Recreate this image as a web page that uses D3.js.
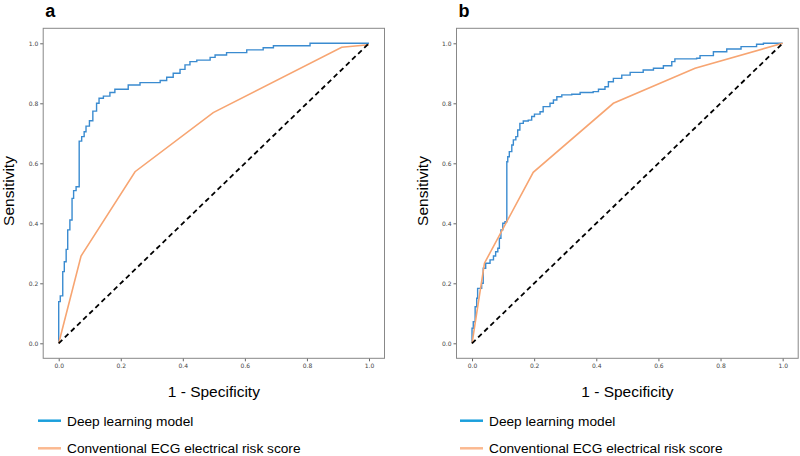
<!DOCTYPE html>
<html>
<head>
<meta charset="utf-8">
<script src="https://cdn.jsdelivr.net/npm/d3@7"></script>
<style>
  body { margin: 0; background: #fff; }
  svg { display: block; }
</style>
</head>
<body>
<div id="chart"></div>
<script>
// ROC points, panel a (fpr, tpr)
var dl_a_fpr = [0, 0, 0.005, 0.013, 0.018, 0.024, 0.029, 0.036, 0.043, 0.048, 0.056, 0.066, 0.074, 0.082, 0.088, 0.099, 0.110, 0.122, 0.130, 0.144, 0.165, 0.181, 0.224, 0.262, 0.327, 0.348, 0.369, 0.391, 0.407, 0.423, 0.445, 0.488, 0.504, 0.541, 0.606, 0.659, 0.692, 0.810, 1.0];
var dl_a_tpr = [0, 0.139, 0.158, 0.239, 0.272, 0.313, 0.378, 0.411, 0.483, 0.509, 0.522, 0.674, 0.689, 0.705, 0.724, 0.742, 0.774, 0.800, 0.817, 0.824, 0.836, 0.847, 0.861, 0.869, 0.876, 0.887, 0.900, 0.913, 0.928, 0.939, 0.944, 0.953, 0.961, 0.969, 0.978, 0.985, 0.992, 1.0, 1.0];
var ecg_a_fpr = [0, 0.072, 0.246, 0.498, 0.912, 1.0];
var ecg_a_tpr = [0, 0.291, 0.572, 0.769, 0.987, 0.995];

// ROC points, panel b
var dl_b_fpr = [0, 0, 0.004, 0.010, 0.015, 0.018, 0.031, 0.036, 0.044, 0.058, 0.069, 0.076, 0.083, 0.088, 0.093, 0.099, 0.106, 0.112, 0.115, 0.120, 0.128, 0.133, 0.141, 0.147, 0.154, 0.165, 0.181, 0.192, 0.201, 0.219, 0.229, 0.251, 0.262, 0.273, 0.289, 0.321, 0.348, 0.390, 0.407, 0.428, 0.439, 0.455, 0.482, 0.509, 0.551, 0.584, 0.616, 0.643, 0.653, 0.723, 0.734, 0.777, 0.820, 0.866, 0.916, 0.938, 1.0];
var dl_b_tpr = [0, 0.05, 0.072, 0.122, 0.150, 0.183, 0.200, 0.250, 0.267, 0.278, 0.291, 0.305, 0.317, 0.350, 0.378, 0.400, 0.405, 0.605, 0.622, 0.639, 0.661, 0.678, 0.689, 0.711, 0.733, 0.741, 0.744, 0.756, 0.764, 0.772, 0.789, 0.800, 0.811, 0.822, 0.828, 0.830, 0.836, 0.839, 0.847, 0.855, 0.872, 0.883, 0.894, 0.903, 0.911, 0.917, 0.925, 0.939, 0.948, 0.950, 0.959, 0.972, 0.981, 0.989, 0.997, 1.0, 1.0];
var ecg_b_fpr = [0, 0.040, 0.197, 0.455, 0.718, 1.0];
var ecg_b_tpr = [0, 0.267, 0.570, 0.800, 0.917, 1.0];

var ticks = [0, 0.2, 0.4, 0.6, 0.8, 1.0];
var legend_labels = ["Deep learning model", "Conventional ECG electrical risk score"];

var blue = "#3a8bd0", orange = "#f7a572";
var blue_leg = "#1a9fdc", orange_leg = "#fbb990";

var svg = d3.select("#chart").append("svg")
  .attr("width", 800)
  .attr("height", 456);

function zip(xs, ys){
  return xs.map(function(x, i){ return [x, ys[i]]; });
}

function draw_panel(opts){
  var x = d3.scaleLinear().domain([-0.05, 1.05]).range([opts.left, opts.right]);
  var y = d3.scaleLinear().domain([-0.05, 1.05]).range([358.3, 28.3]);

  var g = svg.append("g");

  // axes
  var xa = g.append("g")
    .attr("transform", "translate(0,358.3)")
    .call(d3.axisBottom(x).tickValues(ticks).tickFormat(d3.format(".1f")).tickSize(3).tickPadding(2));
  var ya = g.append("g")
    .attr("transform", "translate(" + opts.left + ",0)")
    .call(d3.axisLeft(y).tickValues(ticks).tickFormat(d3.format(".1f")).tickSize(3).tickPadding(2));
  [xa, ya].forEach(function(a){
    a.select(".domain").remove();
    a.selectAll("line").attr("stroke", "#666");
    a.selectAll("text")
      .style("font-family", "DejaVu Sans")
      .style("font-size", "6px")
      .attr("fill", "#444");
  });

  var line = d3.line()
    .x(function(d){ return x(d[0]); })
    .y(function(d){ return y(d[1]); });

  g.append("path")
    .datum(zip(opts.dl_fpr, opts.dl_tpr))
    .attr("fill", "none")
    .attr("stroke", blue)
    .attr("stroke-width", 1.4)
    .attr("d", line.curve(d3.curveStepAfter));

  g.append("path")
    .datum(zip(opts.ecg_fpr, opts.ecg_tpr))
    .attr("fill", "none")
    .attr("stroke", orange)
    .attr("stroke-width", 1.6)
    .attr("d", d3.line().x(function(d){ return x(d[0]); }).y(function(d){ return y(d[1]); }));

  g.append("line")
    .attr("x1", x(0)).attr("y1", y(0))
    .attr("x2", x(1)).attr("y2", y(1))
    .attr("stroke", "#000")
    .attr("stroke-width", 1.8)
    .style("stroke-dasharray", "5, 3.5");

  // frame
  g.append("rect")
    .attr("x", opts.left).attr("y", 28.3)
    .attr("width", opts.right - opts.left)
    .attr("height", 330)
    .attr("fill", "none")
    .attr("stroke", "#888")
    .attr("stroke-width", 1);

  // panel letter
  g.append("text")
    .attr("x", opts.left + 2)
    .attr("y", 16.5)
    .style("font-family", "Liberation Sans")
    .style("font-weight", "bold")
    .style("font-size", "18px")
    .text(opts.letter);

  g.append("text")
    .attr("transform", "translate(" + opts.ylab_x + ",191) rotate(-90)")
    .attr("text-anchor", "middle")
    .style("font-family", "Liberation Sans")
    .style("font-size", "15.5px")
    .text("Sensitivity");

  g.append("text")
    .attr("x", (x(0) + x(1)) / 2)
    .attr("y", 397)
    .attr("text-anchor", "middle")
    .style("font-family", "Liberation Sans")
    .style("font-size", "15.5px")
    .text("1 - Specificity");

  // legend
  var leg_y = [420.7, 448.3];
  var leg_c = [blue_leg, orange_leg];
  legend_labels.forEach(function(lab, i){
    g.append("line")
      .attr("x1", opts.leg_x).attr("x2", opts.leg_x + 23)
      .attr("y1", leg_y[i]).attr("y2", leg_y[i])
      .attr("stroke", leg_c[i])
      .attr("stroke-width", 2.5);
    g.append("text")
      .attr("x", opts.leg_x + 29)
      .attr("y", leg_y[i] + 5)
      .style("font-family", "Liberation Sans")
      .style("font-size", "13.7px")
      .text(lab);
  });
}

draw_panel({
  letter: "a", left: 43.2, right: 384.5, ylab_x: 14, leg_x: 38,
  dl_fpr: dl_a_fpr, dl_tpr: dl_a_tpr, ecg_fpr: ecg_a_fpr, ecg_tpr: ecg_a_tpr
});
draw_panel({
  letter: "b", left: 456.5, right: 798.2, ylab_x: 428, leg_x: 460,
  dl_fpr: dl_b_fpr, dl_tpr: dl_b_tpr, ecg_fpr: ecg_b_fpr, ecg_tpr: ecg_b_tpr
});
</script>
</body>
</html>
